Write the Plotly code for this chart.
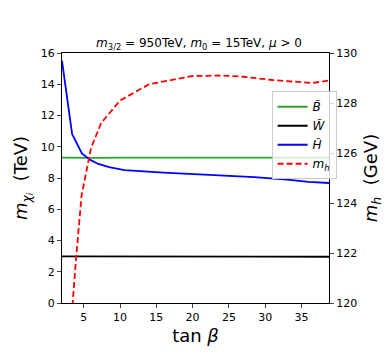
import plotly.graph_objects as go

# tan(beta) grid and masses
tb_bino = [2, 5, 6, 7, 10, 15, 20, 25, 30, 35, 38.8]
m_bino = [9.30, 9.28, 9.27, 9.29, 9.30, 9.30, 9.30, 9.30, 9.30, 9.30, 9.30]

tb_wino = [2, 10, 20, 30, 38.8]
m_wino = [2.98, 2.99, 2.98, 2.97, 2.96]

tb_higgsino = [2, 3.4, 4.74, 5.9, 7, 8.5, 10.6, 13, 16, 19.5, 24, 28.5, 33, 36, 38.8]
m_higgsino = [15.5, 10.8, 9.57, 9.16, 8.9, 8.7, 8.5, 8.42, 8.35, 8.26, 8.17, 8.06, 7.9, 7.75, 7.68]

tb_higgs = [2, 3.4, 4.0, 4.7, 6, 7.4, 10, 14, 20, 24, 27, 31, 35, 36.5, 38.8]
m_higgs = [114.5, 120.0, 122.0, 124.3, 126.2, 127.2, 128.1, 128.75, 129.08, 129.1, 129.05, 128.92, 128.85, 128.8, 128.9]

fnt = "DejaVu Sans"

fig = go.Figure()
fig.add_trace(go.Scatter(x=tb_bino, y=m_bino, mode="lines", name="<i>B̃</i>",
                         line=dict(color="#2ca02c", width=1.8)))
fig.add_trace(go.Scatter(x=tb_wino, y=m_wino, mode="lines", name="<i>W̃</i>",
                         line=dict(color="black", width=1.8)))
fig.add_trace(go.Scatter(x=tb_higgsino, y=m_higgsino, mode="lines", name="<i>H̃</i>",
                         line=dict(color="blue", width=1.8)))
fig.add_trace(go.Scatter(x=tb_higgs, y=m_higgs, mode="lines", name="<i>m<sub>h</sub></i>",
                         line=dict(color="red", width=1.8, dash="6px,3px"), yaxis="y2"))

# page body adds ~8px offset, so the figure is 8px smaller and margins shifted
fig.update_layout(
    width=382, height=347,
    margin=dict(l=50, r=50, t=45, b=46),
    plot_bgcolor="white", paper_bgcolor="white",
    font=dict(family=fnt, size=11, color="black"),
    title=dict(text="<i>m</i><sub>3/2</sub> = 950TeV, <i>m</i><sub>0</sub> = 15TeV, <i>μ</i> > 0",
               x=0.5, xanchor="center", y=1 - 35 / 347, yanchor="middle",
               font=dict(size=12)),
    xaxis=dict(range=[2, 38.8], tickvals=[5, 10, 15, 20, 25, 30, 35],
               ticks="outside", ticklen=4, showgrid=False, zeroline=False,
               showline=True, linecolor="black", linewidth=1, mirror=True,
               title=dict(text="tan <i>β</i>", font=dict(size=18), standoff=6)),
    yaxis=dict(range=[0, 16], dtick=2, ticks="outside", ticklen=4,
               showgrid=False, zeroline=False, showline=True, linecolor="black",
               linewidth=1,
               title=dict(text="<i>m<sub>χ<sub>i</sub></sub></i>  (TeV)", font=dict(size=18), standoff=8)),
    yaxis2=dict(range=[120, 130], dtick=2, overlaying="y", side="right",
                ticks="outside", ticklen=4, showgrid=False, zeroline=False,
                showline=True, linecolor="black", linewidth=1,
                title=dict(text="<i>m<sub>h</sub></i>  (GeV)", font=dict(size=18), standoff=8)),
    legend=dict(x=0.785, y=0.847, xanchor="left", yanchor="top",
                bgcolor="rgba(255,255,255,0.8)", bordercolor="#cccccc", borderwidth=1,
                font=dict(size=12), itemwidth=30, tracegroupgap=0),
    showlegend=True,
)

fig.write_html("out.html")
